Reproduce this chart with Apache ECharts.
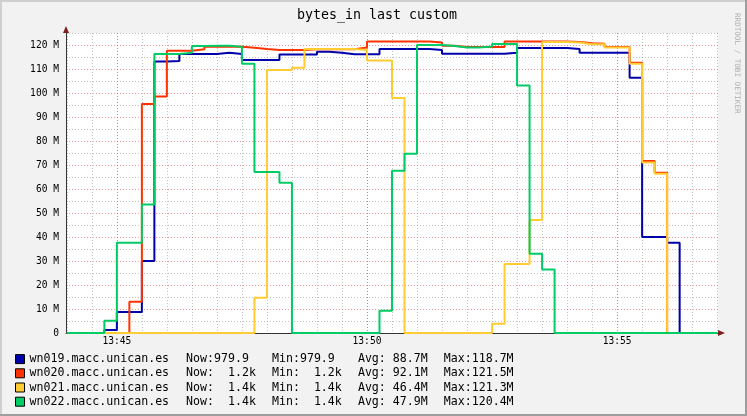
<!DOCTYPE html>
<html>
<head>
<meta charset="utf-8">
<script src="https://cdn.jsdelivr.net/npm/echarts@6/dist/echarts.min.js"></script>
<style>
  html, body { margin: 0; padding: 0; background: #f2f2f2; }
  #chart { width: 747px; height: 416px; }
</style>
</head>
<body>
<div id="chart"></div>
<script>
  // hosts and their colours (rrdtool draws them in this order, last on top)
  const hosts = ['wn019.macc.unican.es', 'wn020.macc.unican.es', 'wn021.macc.unican.es', 'wn022.macc.unican.es'];
  const colors = ['#0000aa', '#ff3300', '#ffcc33', '#00cc66'];

  // 15 s steps starting 13:44:00, values in M
  const stepStart = '13:44:00';
  const stepSec = 15;
  const wn019 = [0, 0, 0, 1.3, 8.8, 8.8, 30.0, 113.1, 113.3, 116.3,
    116.3, 116.3, 116.8, 116.3, 113.8, 113.8, 113.8, 116.0, 116.0, 116.0,
    117.2, 116.8, 116.1, 116.1, 116.1, 118.3, 118.3, 118.3, 118.3, 117.9,
    116.4, 116.4, 116.4, 116.4, 116.4, 116.8, 118.7, 118.7, 118.7, 118.7,
    118.3, 116.8, 116.8, 116.8, 116.8, 106.4, 40.0, 40.0, 37.6, 0.001,
    0.001, 0.001];
  const wn020 = [0, 0, 0, 0, 0, 13.0, 95.4, 98.5, 117.6, 117.6,
    118.2, 119.3, 119.3, 119.3, 118.9, 118.3, 117.9, 117.9, 117.9, 118.2,
    118.2, 118.2, 118.2, 119.0, 121.5, 121.5, 121.5, 121.5, 121.5, 121.0,
    119.7, 119.2, 119.2, 119.2, 119.2, 121.5, 121.5, 121.5, 121.5, 121.5,
    121.3, 120.7, 120.5, 119.2, 119.2, 112.6, 71.7, 66.8, 0.0012, 0.0012,
    0.0012, 0.0012];
  const wn021 = [0, 0, 0, 0, 0, 0, 0, 0, 0, 0,
    0, 0, 0, 0, 0, 14.7, 109.6, 109.6, 110.5, 118.3,
    118.3, 118.3, 118.3, 117.9, 113.5, 113.5, 97.9, 0, 0, 0,
    0, 0, 0, 0, 3.9, 28.8, 28.8, 47.1, 121.3, 121.3,
    121.0, 120.3, 120.3, 119.0, 119.0, 112.2, 71.0, 66.4, 0.0014, 0.0014,
    0.0014, 0.0014];
  const wn022 = [0, 0, 0, 5.1, 37.6, 37.6, 53.5, 116.3, 116.3, 116.8,
    119.6, 119.7, 119.7, 119.3, 112.2, 67.1, 67.1, 62.6, 0, 0,
    0, 0, 0, 0, 0, 9.3, 67.6, 74.7, 120.0, 120.0,
    119.6, 119.0, 119.0, 119.4, 120.4, 120.4, 103.1, 33.0, 26.5, 0.0014,
    0.0014, 0.0014, 0.0014, 0.0014, 0.0014, 0.0014, 0.0014, 0.0014, 0.0014, 0.0014,
    0.0014, 0.0014];
  const seriesVals = [wn019, wn020, wn021, wn022];

  // legend statistics
  const nowText = ['979.9', '  1.2k', '  1.4k', '  1.4k'];
  const minText = ['979.9', '  1.2k', '  1.4k', '  1.4k'];
  const avgText = [' 88.7M', ' 92.1M', ' 46.4M', ' 47.9M'];
  const maxText = ['118.7M', '121.5M', '121.3M', '120.4M'];

  // axes
  const xStart = '13:43:59';
  const xEnd = '13:57:01';
  const xLabels = ['13:45', '13:50', '13:55'];
  const yMajor = [0, 10, 20, 30, 40, 50, 60, 70, 80, 90, 100, 110, 120];
  const yMinor = [5, 15, 25, 35, 45, 55, 65, 75, 85, 95, 105, 115, 125];
  const yMax = 125;

  function toSec(s) {
    const p = s.split(':').map(Number);
    return p[0] * 3600 + p[1] * 60 + (p[2] || 0);
  }
  function fmtTime(v) {
    const h = Math.floor(v / 3600), m = Math.floor((v % 3600) / 60);
    return String(h).padStart(2, '0') + ':' + String(m).padStart(2, '0');
  }

  const t0 = toSec(stepStart);
  const xMin = toSec(xStart), xMax = toSec(xEnd);
  const xMajor = xLabels.map(toSec);
  const xMinor = [];
  for (let t = t0; t <= xMax; t += 30) xMinor.push(t);

  const mono = 'DejaVu Sans Mono';
  const lfs = 11.6;
  const gridGrey = { color: 'rgba(130,130,130,0.5)', width: 1, type: [1, 2] };
  const gridRed = { color: 'rgba(230,60,60,0.5)', width: 1, type: [1, 2] };

  const chart = echarts.init(document.getElementById('chart'));
  chart.setOption({
    animation: false,
    backgroundColor: '#f2f2f2',
    title: {
      text: 'bytes_in last custom', left: 297, top: 9, padding: 0,
      textStyle: { fontFamily: mono, fontSize: 13.3, fontWeight: 'normal', color: '#000' }
    },
    grid: { left: 66, right: 29, top: 33, bottom: 83, show: true, backgroundColor: '#fff', borderWidth: 0 },
    legend: {
      data: hosts, orient: 'vertical', left: 15, top: 352, height: 64, padding: 0, itemGap: 0,
      icon: 'rect', itemWidth: 9, itemHeight: 9, selectedMode: false,
      itemStyle: { borderColor: '#000', borderWidth: 1 },
      textStyle: {
        fontFamily: mono, fontSize: lfs, color: '#000', lineHeight: 14.2,
        rich: {
          n: { width: 156.6, fontFamily: mono, fontSize: lfs, lineHeight: 14.2 },
          c: { width: 85.9, fontFamily: mono, fontSize: lfs, lineHeight: 14.2 },
          m: { fontFamily: mono, fontSize: lfs, lineHeight: 14.2 }
        }
      },
      formatter: function (name) {
        const i = hosts.indexOf(name);
        return '{n|' + name + '}{c|Now:' + nowText[i] + '}{c|Min:' + minText[i] + '}{c|Avg:' + avgText[i] + '}{m|Max:' + maxText[i] + '}';
      }
    },
    xAxis: [{
      type: 'value', position: 'bottom', min: xMin, max: xMax,
      axisLine: { show: false }, axisLabel: { show: false },
      axisTick: { show: false, customValues: xMinor },
      splitLine: { show: true, lineStyle: gridGrey }
    }, {
      type: 'value', position: 'bottom', min: xMin, max: xMax,
      axisLine: { show: true, lineStyle: { color: '#333', width: 1 } },
      axisTick: { show: false, customValues: xMajor },
      axisLabel: {
        customValues: xMajor, formatter: fmtTime, margin: 3,
        fontFamily: mono, fontSize: 9.6, color: '#000'
      },
      splitLine: { show: true, lineStyle: gridRed }
    }],
    yAxis: [{
      type: 'value', position: 'left', min: 0, max: yMax,
      axisLine: { show: false }, axisLabel: { show: false },
      axisTick: { show: false, customValues: yMinor },
      splitLine: { show: true, lineStyle: gridGrey }
    }, {
      type: 'value', position: 'left', min: 0, max: yMax,
      axisLine: { show: true, lineStyle: { color: '#333', width: 1 } },
      axisTick: { show: false, customValues: yMajor },
      axisLabel: {
        customValues: yMajor, margin: 7,
        formatter: function (v) { return v === 0 ? '0' : v + ' M'; },
        fontFamily: mono, fontSize: 9.6, color: '#000'
      },
      splitLine: { show: true, lineStyle: gridRed }
    }],
    series: seriesVals.map(function (vals, k) {
      const data = vals.map(function (v, i) { return [t0 + i * stepSec, v]; });
      data.push([t0 + vals.length * stepSec, vals[vals.length - 1]]);
      return {
        name: hosts[k], type: 'line', step: 'end', xAxisIndex: 1, yAxisIndex: 1,
        showSymbol: false, symbol: 'none', clip: false,
        color: colors[k],
        lineStyle: { width: 2, color: colors[k] },
        data: data
      };
    }),
    graphic: [
      { type: 'rect', shape: { x: 0, y: 0, width: 747, height: 2 }, style: { fill: '#cfcfcf' } },
      { type: 'rect', shape: { x: 0, y: 0, width: 2, height: 416 }, style: { fill: '#cfcfcf' } },
      { type: 'rect', shape: { x: 0, y: 414, width: 747, height: 2 }, style: { fill: '#9e9e9e' } },
      { type: 'rect', shape: { x: 745, y: 0, width: 2, height: 416 }, style: { fill: '#9e9e9e' } },
      { type: 'polygon', shape: { points: [[718, 330], [718, 336], [725, 333]] }, style: { fill: '#7f1f1f' } },
      { type: 'polygon', shape: { points: [[63, 33], [69, 33], [66, 26]] }, style: { fill: '#7f1f1f' } },
      {
        type: 'text', x: 737, y: 13, rotation: -Math.PI / 2,
        style: { text: 'RRDTOOL / TOBI OETIKER', fill: '#b0b0b0', font: '7.6px "DejaVu Sans Mono"', align: 'left', verticalAlign: 'middle' }
      }
    ]
  });
</script>
</body>
</html>
